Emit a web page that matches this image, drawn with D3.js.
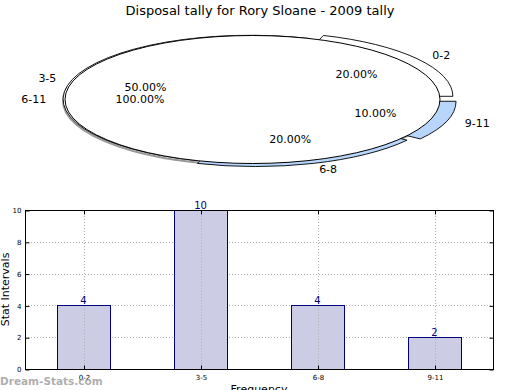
<!DOCTYPE html>
<html>
<head>
<meta charset="utf-8">
<script src="https://cdn.jsdelivr.net/npm/d3@7"></script>
<style>
  body { margin: 0; background: #fff; }
  svg { display: block; font-family: "DejaVu Sans", sans-serif; }
</style>
</head>
<body>
<svg id="chart" width="520" height="390"></svg>
<script>
var title = 'Disposal tally for Rory Sloane - 2009 tally'

// pie: intervals and their share
var pieLabels = ['0-2', '3-5', '6-8', '9-11']
var pieValues = [20, 50, 20, 10]
var pieExplode = [0.085, 0, 0.05, 0.09]
var pieColors = ['#ffffff', '#ffffff', '#b8d5fc', '#b8d5fc']

// second (overlaid) pie
var overLabels = ['6-11']
var overValues = [100]

// bars
var barCats = ['0-2', '3-5', '6-8', '9-11']
var barValues = [4, 10, 4, 2]
var yTicks = [0, 2, 4, 6, 8, 10]

var svg = d3.select('#chart')

svg.append('text')
  .attr('x', 260).attr('y', 15)
  .attr('text-anchor', 'middle')
  .style('font-size', '13px')
  .text(title)

// ---- pie ----
var cx = 252.5
var cy = 99.5
var rx = 187.5
var ry = 64

// matplotlib goes counterclockwise from east
var pie = d3.pie().sort(null).startAngle(Math.PI / 2).endAngle(Math.PI / 2 - 2 * Math.PI)
var arc = d3.arc().innerRadius(0).outerRadius(1)

function unitPos (a, r) {
  return [r * Math.sin(a), -r * Math.cos(a)]
}

var slices = pie(pieValues)
var overSlices = pie(overValues)
var gPie = svg.append('g')

slices.forEach(function (d, i) {
  var m = (d.startAngle + d.endAngle) / 2
  var off = unitPos(m, pieExplode[i])
  d.ox = off[0] * rx
  d.oy = off[1] * ry
})

// shadow of the overlaid pie
gPie.append('ellipse')
  .attr('cx', cx - 2).attr('cy', cy + 1.5)
  .attr('rx', rx).attr('ry', ry)
  .attr('fill', 'none')
  .attr('stroke', '#999')
  .attr('stroke-width', 2)

gPie.selectAll('.wedge')
  .data(slices)
  .enter().append('path')
  .attr('class', 'wedge')
  .attr('transform', function (d) {
    return 'translate(' + (cx + d.ox) + ',' + (cy + d.oy) + ') scale(' + rx + ',' + ry + ')'
  })
  .attr('d', arc)
  .attr('fill', function (d, i) { return pieColors[i] })
  .attr('stroke', '#000')
  .attr('stroke-width', 0.9)
  .attr('vector-effect', 'non-scaling-stroke')

gPie.selectAll('.over')
  .data(overSlices)
  .enter().append('ellipse')
  .attr('class', 'over')
  .attr('cx', cx).attr('cy', cy)
  .attr('rx', rx).attr('ry', ry)
  .attr('fill', '#fff')
  .attr('stroke', '#000')
  .attr('stroke-width', 1)

function addLabels (data, labels, explode) {
  var total = d3.sum(data, function (s) { return s.value })
  data.forEach(function (d, i) {
    var m = (d.startAngle + d.endAngle) / 2
    var off = unitPos(m, explode ? explode[i] : 0)
    var ox = off[0] * rx
    var oy = off[1] * ry
    var lp = unitPos(m, 1.1)
    var pp = unitPos(m, 0.6)
    gPie.append('text')
      .attr('x', cx + ox + lp[0] * rx)
      .attr('y', cy + oy + lp[1] * ry)
      .attr('dy', '0.35em')
      .attr('text-anchor', lp[0] > 0.0001 ? 'start' : 'end')
      .style('font-size', '11px')
      .text(labels[i])
    gPie.append('text')
      .attr('x', cx + ox + pp[0] * rx)
      .attr('y', cy + oy + pp[1] * ry)
      .attr('dy', '0.35em')
      .attr('text-anchor', 'middle')
      .style('font-size', '11px')
      .text(d3.format('.2f')(d.value / total * 100) + '%')
  })
}
addLabels(slices, pieLabels, pieExplode)
addLabels(overSlices, overLabels, null)

// ---- bars ----
var plotLeft = 25
var plotRight = 493
var plotTop = 210
var plotBottom = 369

var x = d3.scalePoint().domain(barCats).range([plotLeft, plotRight]).padding(0.5)
var y = d3.scaleLinear().domain([0, 10]).range([plotBottom, plotTop])
var barW = x.step() * 0.45

var gBar = svg.append('g')

// grid
gBar.selectAll('.hgrid')
  .data(yTicks.slice(1, -1))
  .enter().append('line')
  .attr('x1', plotLeft).attr('x2', plotRight)
  .attr('y1', function (d) { return Math.round(y(d)) + 0.5 })
  .attr('y2', function (d) { return Math.round(y(d)) + 0.5 })
  .attr('stroke', '#b0b0b0')
  .attr('stroke-dasharray', '1,2')

gBar.selectAll('.bar')
  .data(barValues)
  .enter().append('rect')
  .attr('x', function (d, i) { return Math.round(x(barCats[i]) - barW / 2) + 0.5 })
  .attr('y', function (d) { return Math.round(y(d)) + 0.5 })
  .attr('width', Math.round(barW))
  .attr('height', function (d) { return Math.round(y(0)) - Math.round(y(d)) })
  .attr('fill', '#ccccE5')
  .attr('stroke', '#00007f')
  .attr('stroke-width', 1)

gBar.selectAll('.vgrid')
  .data(barCats)
  .enter().append('line')
  .attr('x1', function (d) { return Math.round(x(d)) + 0.5 })
  .attr('x2', function (d) { return Math.round(x(d)) + 0.5 })
  .attr('y1', plotTop).attr('y2', plotBottom)
  .attr('stroke', '#b0b0b0')
  .attr('stroke-dasharray', '1,2')

gBar.selectAll('.val')
  .data(barValues)
  .enter().append('text')
  .attr('x', function (d, i) { return x(barCats[i]) })
  .attr('y', function (d) { return y(d) - 1 })
  .attr('text-anchor', 'middle')
  .attr('fill', '#00007f')
  .style('font-size', '10px')
  .text(function (d) { return d })

// frame
gBar.append('rect')
  .attr('x', plotLeft + 0.5).attr('y', plotTop + 0.5)
  .attr('width', plotRight - plotLeft).attr('height', plotBottom - plotTop)
  .attr('fill', 'none')
  .attr('stroke', '#000')

var gy = gBar.append('g')
  .attr('transform', 'translate(' + (plotLeft + 0.5) + ',0.5)')
  .call(d3.axisLeft(y).tickValues(yTicks).tickSize(-4).tickPadding(4))
var gy2 = gBar.append('g')
  .attr('transform', 'translate(' + (plotRight + 0.5) + ',0.5)')
  .call(d3.axisRight(y).tickValues(yTicks).tickSize(-4).tickFormat(''))
var gx = gBar.append('g')
  .attr('transform', 'translate(0.5,' + (plotBottom + 0.5) + ')')
  .call(d3.axisBottom(x).tickSize(-4).tickPadding(6))
var gx2 = gBar.append('g')
  .attr('transform', 'translate(0.5,' + (plotTop + 0.5) + ')')
  .call(d3.axisTop(x).tickSize(-4).tickFormat(''))

;[gy, gy2, gx, gx2].forEach(function (g) {
  g.select('.domain').remove()
  g.selectAll('text').style('font-family', '"DejaVu Sans", sans-serif').style('font-size', '7px').attr('fill', '#000')
  g.selectAll('line').attr('stroke', '#000')
})

svg.append('text')
  .attr('transform', 'translate(5,' + ((plotTop + plotBottom) / 2) + ') rotate(-90)')
  .attr('text-anchor', 'middle')
  .attr('dy', '0.35em')
  .style('font-size', '11px')
  .text('Stat Intervals')

svg.append('text')
  .attr('x', (plotLeft + plotRight) / 2)
  .attr('y', 393)
  .attr('text-anchor', 'middle')
  .style('font-size', '11px')
  .text('Frequency')

svg.append('text')
  .attr('x', 0)
  .attr('y', 385)
  .style('font-size', '10.5px')
  .style('font-weight', 'bold')
  .attr('fill', '#a0a0a0')
  .attr('fill-opacity', 0.85)
  .text('Dream-Stats.com')
</script>
</body>
</html>
